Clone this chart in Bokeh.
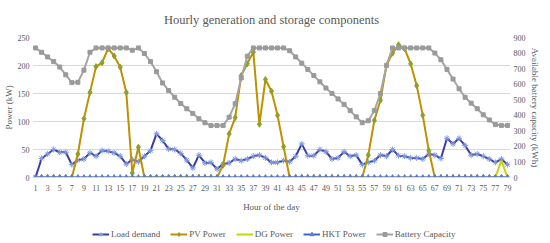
from bokeh.plotting import figure
from bokeh.models import Range1d, LinearAxis, FixedTicker, Legend, LegendItem
from bokeh.layouts import column
from bokeh.embed import file_html
from bokeh.resources import INLINE

hours = list(range(1, 80))

load_demand = [0, 34, 42, 50, 45, 45, 23, 31, 33, 44,
               38, 48, 47, 44, 38, 24, 32, 28, 38, 48,
               78, 66, 51, 50, 43, 31, 17, 40, 26, 27,
               15, 24, 26, 33, 30, 33, 38, 40, 35, 27,
               27, 30, 28, 38, 60, 39, 39, 50, 46, 33,
               35, 46, 38, 40, 23, 27, 30, 40, 38, 50,
               39, 38, 35, 35, 33, 42, 40, 34, 70, 60,
               70, 57, 40, 42, 38, 33, 27, 33, 23]

pv_power = [0, 0, 0, 0, 0, 0, 0, 42, 105, 152,
            198, 205, 230, 217, 197, 152, 8, 54, 0, 0,
            0, 0, 0, 0, 0, 0, 0, 0, 0, 0,
            0, 22, 78, 107, 182, 203, 224, 95, 175, 154,
            111, 55, 0, 0, 0, 0, 0, 0, 0, 0,
            0, 0, 0, 0, 0, 40, 102, 138, 200, 222,
            237, 230, 203, 164, 111, 48, 0, 0, 0, 0,
            0, 0, 0, 0, 0, 0, 0, 0, 0]

dg_power = [0] * 77 + [30, 0]

hkt_power = [0] * 79

battery_capacity = [833, 805, 775, 745, 710, 660, 610, 612, 690, 805,
                    833, 833, 833, 833, 833, 833, 818, 833, 797, 745,
                    680, 608, 559, 516, 476, 442, 412, 378, 352, 334,
                    334, 334, 388, 475, 640, 780, 833, 833, 833, 833,
                    833, 833, 815, 775, 735, 695, 655, 615, 575, 540,
                    505, 470, 430, 390, 352, 365, 430, 540, 720, 833,
                    833, 833, 833, 833, 833, 833, 800, 757, 695, 633,
                    570, 516, 478, 442, 403, 370, 340, 335, 335]

power_ticks = [0, 50, 100, 150, 200, 250]
capacity_ticks = [0, 100, 200, 300, 400, 500, 600, 700, 800, 900]
hour_ticks = list(range(1, 80, 2))
series_names = ["Load demand", "PV Power", "DG Power", "HKT Power", "Battery Capacity"]

FONT = "Liberation Serif"
TXT = "#595959"

LOAD_LINE, LOAD_MK = "#3B3BA3", "#7F9BE0"
PV_LINE, PV_MK = "#BF9000", "#8FA02A"
DG_LINE = "#C6D400"
HKT_LINE, HKT_MK = "#4862CC", "#5B79DC"
BAT_LINE, BAT_MK = "#A5A5A5", "#9A9A9A"


def draw_series(fig, bat_range=None):
    kw_bat = {"y_range_name": bat_range} if bat_range else {}
    r1 = [fig.line(hours, load_demand, line_color=LOAD_LINE, line_width=2),
          fig.scatter(hours, load_demand, marker="asterisk", size=6, line_color=LOAD_MK, line_width=1)]
    r2 = [fig.line(hours, pv_power, line_color=PV_LINE, line_width=2),
          fig.scatter(hours, pv_power, marker="diamond", size=6, fill_color=PV_MK, line_color=PV_MK)]
    r3 = [fig.line(hours, dg_power, line_color=DG_LINE, line_width=2)]
    r4 = [fig.line(hours, hkt_power, line_color=HKT_LINE, line_width=2),
          fig.scatter(hours, hkt_power, marker="triangle", size=5, fill_color=HKT_MK, line_color=HKT_MK)]
    r5 = [fig.line(hours, battery_capacity, line_color=BAT_LINE, line_width=2, **kw_bat),
          fig.scatter(hours, battery_capacity, marker="square", size=4, fill_color=BAT_MK,
                      line_color=BAT_MK, **kw_bat)]
    return [r1, r2, r3, r4, r5]


p = figure(frame_width=478, frame_height=140, output_backend="svg", toolbar_location=None,
           x_range=Range1d(0.5, 79.5), y_range=Range1d(0, 250),
           title="Hourly generation and storage components",
           min_border_left=0, min_border_right=0, min_border_top=0, min_border_bottom=0)
p.extra_y_ranges = {"cap": Range1d(0, 900)}

p.title.align = "center"
p.title.text_font = FONT
p.title.text_font_size = "12.5px"
p.title.text_font_style = "normal"
p.title.text_color = TXT
p.title.standoff = 21

p.outline_line_color = None
p.xgrid.grid_line_color = None
p.ygrid.grid_line_color = "#D9D9D9"
p.ygrid.grid_line_width = 1


def style_axis(ax):
    ax.major_label_text_font = FONT
    ax.major_label_text_font_size = "8px"
    ax.major_label_text_color = TXT
    ax.axis_label_text_font = FONT
    ax.axis_label_text_font_size = "9px"
    ax.axis_label_text_font_style = "normal"
    ax.axis_label_text_color = TXT
    ax.major_tick_line_color = None
    ax.minor_tick_line_color = None
    ax.major_tick_out = 0
    ax.major_tick_in = 0
    ax.minor_tick_out = 0
    ax.minor_tick_in = 0


yax = p.yaxis[0]
yax.ticker = FixedTicker(ticks=power_ticks)
yax.axis_label = "Power (kW)"
style_axis(yax)
yax.axis_line_color = None
yax.major_label_standoff = 3
yax.axis_label_standoff = 1

xax = p.xaxis[0]
xax.ticker = FixedTicker(ticks=hour_ticks)
xax.axis_label = "Hour of the day"
style_axis(xax)
xax.axis_line_color = "#D9D9D9"
xax.major_label_standoff = 7
xax.axis_label_standoff = 8

rax = LinearAxis(y_range_name="cap", ticker=FixedTicker(ticks=capacity_ticks),
                 axis_label="Available battery capacity (kWh)")
style_axis(rax)
rax.axis_line_color = None
rax.major_label_standoff = 3
rax.axis_label_standoff = 1
p.add_layout(rax, "right")

draw_series(p, bat_range="cap")

# Legend strip below the chart: same series, drawn with ranges that keep them out of view,
# so only the legend keys show.
lg = figure(width=532, height=30, output_backend="svg", toolbar_location=None,
            x_range=Range1d(0.5, 79.5), y_range=Range1d(-2000, -1000),
            min_border_left=0, min_border_right=0, min_border_top=0, min_border_bottom=0)
lg.axis.visible = False
lg.grid.visible = False
lg.outline_line_color = None
keys = draw_series(lg)

legend = Legend(items=[LegendItem(label=n, renderers=r) for n, r in zip(series_names, keys)],
                orientation="horizontal", location=(60, 5))
legend.label_text_font = FONT
legend.label_text_font_size = "9px"
legend.label_text_color = TXT
legend.glyph_width = 17
legend.glyph_height = 10
legend.label_height = 10
legend.spacing = 10
legend.label_standoff = 2
legend.padding = 0
legend.margin = 0
legend.border_line_color = None
legend.background_fill_alpha = 0
lg.add_layout(legend, "center")

layout = column(p, lg, spacing=0)
open("out.html", "w").write(file_html(layout, INLINE))
